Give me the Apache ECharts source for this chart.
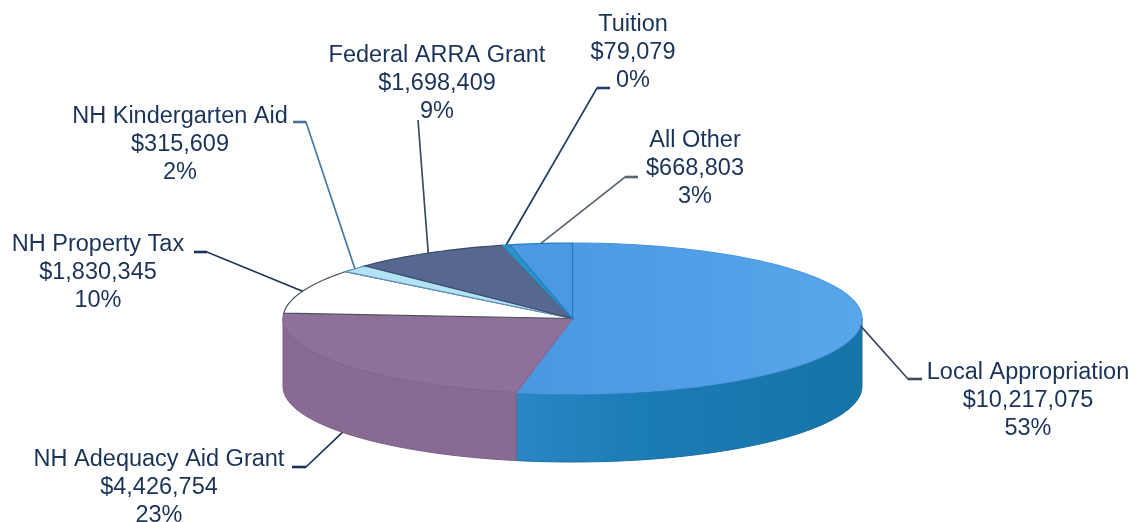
<!DOCTYPE html>
<html>
<head>
<meta charset="utf-8">
<style>html,body{margin:0;padding:0;background:#fff}#c{width:1138px;height:522px}</style>
<script src="https://cdn.jsdelivr.net/npm/echarts@6/dist/echarts.min.js"></script>
</head>
<body>
<div id="c"></div>
<script>
// ---- data ----
const categories = ['Local Appropriation','NH Adequacy Aid Grant','NH Property Tax','NH Kindergarten Aid','Federal ARRA Grant','Tuition','All Other'];
const values = [10217075,4426754,1830345,315609,1698409,79079,668803];

// ---- layout and style ----
const CX = 572.5, CY = 318.5, RX = 289.5, RY = 75.5, DEPTH = 68;
const labelCenters = [[1028,401],[159,488],[98,273],[180,145],[437,84],[633,53],[695,169]];
const leaderElbows = [[[908,379],[922,379]],[[306,467],[292,467]],[[207,252],[194,252]],[[306,122],[293,122]],[[418,120],[418,120]],[[597,88],[610,88]],[[625,177],[638,177]]];
const anchorOnBase = [false,true,false,false,false,false,false];
const topFills = [
  {type:'linear',x:0,y:0,x2:1,y2:0,colorStops:[{offset:0,color:'#4a96e0'},{offset:1,color:'#5aa6ec'}]},
  '#8f7098','#ffffff','#b4e2f5','#56688f','#2a93c6','#4c98e2'];
const topStrokes = ['#4c98e2','#84678e','#47525f','#5a8fbe','#3a4a68','#2a93c6','#1f80c0'];
const leaderColors = ['#3c4a5c','#1b3358','#1b3358','#47759f','#3f4a5a','#1f3d66','#5a6470'];
const wallFills = [
  {type:'linear',x:0,y:0,x2:1,y2:0,colorStops:[{offset:0,color:'#2a86c6'},{offset:.35,color:'#1c7cb6'},{offset:1,color:'#1673a6'}]},
  '#896a93'];
const textColor = '#1b3358';

const total = values.reduce((a, b) => a + b, 0);
const money = v => '$' + v.toLocaleString('en-US');
const rim = (deg, dy) => {
  const a = deg * Math.PI / 180;
  return [CX + RX * Math.sin(a), CY - RY * Math.cos(a) + (dy || 0)];
};
const arc = (from, to, dy) => {
  const pts = [], n = Math.max(2, Math.ceil(Math.abs(to - from) / 1.5));
  for (let k = 0; k <= n; k++) pts.push(rim(from + (to - from) * k / n, dy));
  return pts;
};

function renderItem(params, api) {
  const i = params.dataIndex;
  const v = api.value(0);
  let sum = 0;
  for (let k = 0; k < i; k++) sum += values[k];
  const a0 = sum / total * 360, a1 = (sum + v) / total * 360, mid = (a0 + a1) / 2;
  const children = [];
  // front wall
  const w0 = Math.max(a0, 90), w1 = Math.min(a1, 270);
  if (w1 > w0 && wallFills[i]) {
    children.push({type:'polygon', z2:1,
      shape:{points: arc(w0, w1, 0).concat(arc(w1, w0, DEPTH))},
      style:{fill: wallFills[i], stroke: i === 1 ? '#7d6089' : '#1a6f9f', lineWidth:1}});
  }
  // top face
  children.push({type:'polygon', z2:2,
    shape:{points: [[CX, CY]].concat(arc(a0, a1, 0))},
    style:{fill: topFills[i], stroke: topStrokes[i], lineWidth: 1.2}});
  // leader
  const elbow = leaderElbows[i];
  children.push({type:'polyline', z2:3,
    shape:{points: [rim(mid, anchorOnBase[i] ? DEPTH : 0)].concat(elbow)},
    style:{fill:'none', stroke:leaderColors[i], lineWidth:1.7}});
  // thicker stub next to the label
  children.push({type:'line', z2:3,
    shape:{x1:elbow[0][0], y1:elbow[0][1], x2:elbow[1][0], y2:elbow[1][1]},
    style:{stroke:leaderColors[i], lineWidth:2.6}});
  // label
  children.push({type:'text', z2:4,
    style:{x: labelCenters[i][0], y: labelCenters[i][1],
      text: categories[i] + '\n' + money(v) + '\n' + Math.round(v / total * 100) + '%',
      align:'center', verticalAlign:'middle',
      font:'23.5px "Liberation Sans", Arial, sans-serif', lineHeight:28, fill:textColor}});
  return {type:'group', children};
}

const chart = echarts.init(document.getElementById('c'), null, {renderer:'canvas'});
chart.setOption({
  animation:false,
  backgroundColor:'#ffffff',
  series:[{type:'custom', coordinateSystem:'none', renderItem, data: values.map(v => [v]), silent:true}]
});
</script>
</body>
</html>
